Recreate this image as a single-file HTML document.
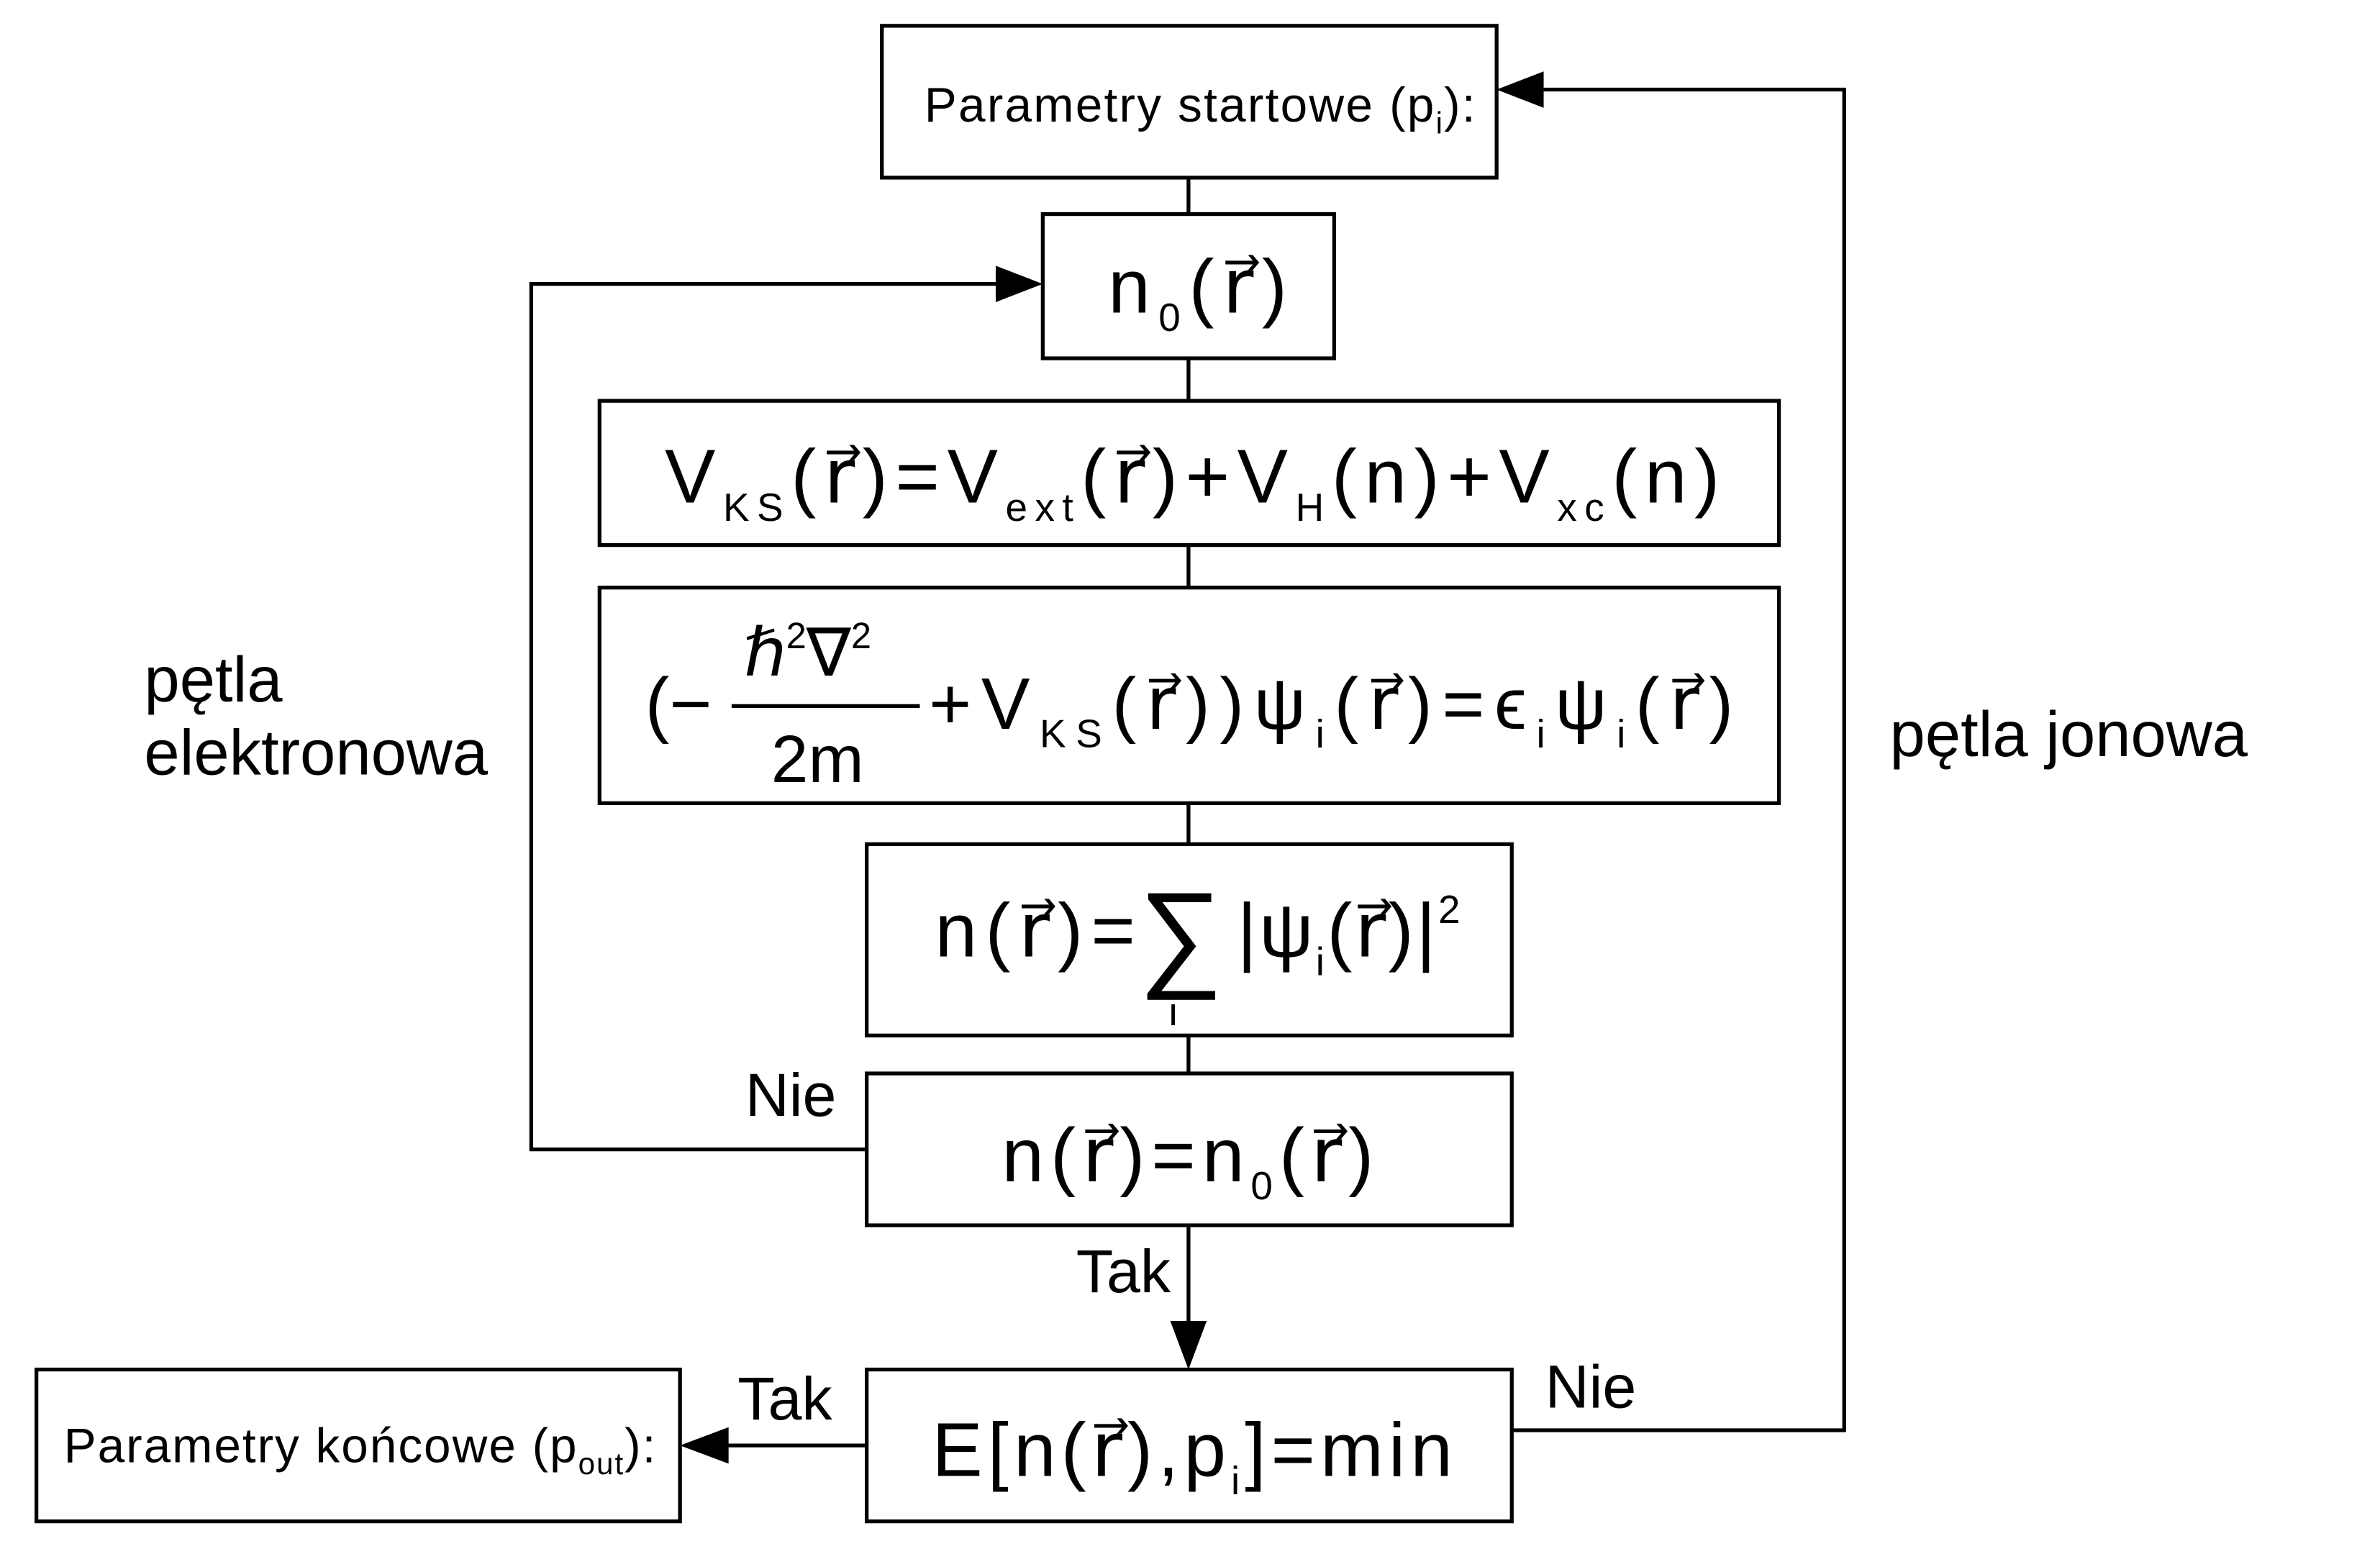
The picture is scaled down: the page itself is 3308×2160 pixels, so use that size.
<!DOCTYPE html>
<html><head><meta charset="utf-8"><style>
html,body{margin:0;padding:0;background:#fff;}
svg{display:block;}
text{font-family:"Liberation Sans","DejaVu Sans",sans-serif;fill:#000;}
</style></head><body>
<svg width="3308" height="2160" viewBox="0 0 1568 1023.5" preserveAspectRatio="none">
<g fill="none" stroke="#000" stroke-width="2.5">
<rect x="581" y="17" width="405" height="100"/>
<rect x="687" y="141" width="192" height="95"/>
<rect x="395" y="264" width="777" height="95"/>
<rect x="395" y="387" width="777" height="142"/>
<rect x="571" y="556" width="425" height="126"/>
<rect x="571" y="707" width="425" height="100"/>
<rect x="571" y="902" width="425" height="100"/>
<rect x="24" y="902" width="424" height="100"/>
<path d="M783 117V141M783 236V264M783 359V387M783 529V556M783 682V707M783 807V872"/>
<path d="M571 757H350V187H660"/>
<path d="M996 942H1215V59H1015"/>
<path d="M571 952H478"/>
</g>
<g fill="#000" stroke="none">
<polygon points="687,187 656,175 656,199"/>
<polygon points="986,59 1017,47 1017,71"/>
<polygon points="783,902 771,870 795,870"/>
<polygon points="448,952 480,940 480,964"/>
</g>
<text x="609" y="80" font-size="32" textLength="363" lengthAdjust="spacing">Parametry startowe (p<tspan font-size="20" dy="8">i</tspan><tspan dy="-8">):</tspan></text>
<text x="42" y="963" font-size="32" textLength="390" lengthAdjust="spacing">Parametry końcowe (p<tspan font-size="20" dy="8">out</tspan><tspan dy="-8">):</tspan></text>
<text x="730" y="206" font-size="50" textLength="118" lengthAdjust="spacing">n<tspan font-size="26" dy="12">0</tspan><tspan dy="-12">(r⃗)</tspan></text>
<text x="438" y="331" font-size="50" textLength="695" lengthAdjust="spacing">V<tspan font-size="26" dy="12">KS</tspan><tspan dy="-12">(r⃗)=V</tspan><tspan font-size="26" dy="12">ext</tspan><tspan dy="-12">(r⃗)+V</tspan><tspan font-size="26" dy="12">H</tspan><tspan dy="-12">(n)+V</tspan><tspan font-size="26" dy="12">xc</tspan><tspan dy="-12">(n)</tspan></text>
<text x="425" y="480" font-size="48">(−</text>
<text x="490" y="445" font-size="44">ℏ<tspan font-size="24" dy="-18">2</tspan><tspan dy="18">∇</tspan><tspan font-size="24" dy="-18">2</tspan></text>
<line x1="482" y1="465" x2="606" y2="465" stroke="#000" stroke-width="2.5"/>
<text x="508" y="515" font-size="44">2m</text>
<text x="612" y="480" font-size="48" textLength="530" lengthAdjust="spacing">+V<tspan font-size="26" dy="12">KS</tspan><tspan dy="-12">(r⃗))ψ</tspan><tspan font-size="26" dy="12">i</tspan><tspan dy="-12">(r⃗)=ϵ</tspan><tspan font-size="26" dy="12">i</tspan><tspan dy="-12">ψ</tspan><tspan font-size="26" dy="12">i</tspan><tspan dy="-12">(r⃗)</tspan></text>
<text x="616" y="630" font-size="50" textLength="132" lengthAdjust="spacing">n(r⃗)=</text>
<text x="750" y="642" font-size="78">∑</text>
<text x="770" y="675" font-size="26">i</text>
<text x="815" y="630" font-size="50" textLength="147" lengthAdjust="spacing">|ψ<tspan font-size="26" dy="12">i</tspan><tspan dy="-12">(r⃗)|</tspan><tspan font-size="26" dy="-22">2</tspan></text>
<text x="660" y="778" font-size="50" textLength="245" lengthAdjust="spacing">n(r⃗)=n<tspan font-size="26" dy="12">0</tspan><tspan dy="-12">(r⃗)</tspan></text>
<text x="614" y="972" font-size="50" textLength="343" lengthAdjust="spacing">E[n(r⃗),p<tspan font-size="26" dy="12">i</tspan><tspan dy="-12">]=min</tspan></text>
<text x="95" y="462" font-size="42">pętla</text>
<text x="95" y="510" font-size="42">elektronowa</text>
<text x="1245" y="498" font-size="42">pętla jonowa</text>
<text x="491" y="735" font-size="40">Nie</text>
<text x="709" y="851" font-size="40">Tak</text>
<text x="486" y="935" font-size="40">Tak</text>
<text x="1018" y="927" font-size="40">Nie</text>
</svg>
</body></html>
